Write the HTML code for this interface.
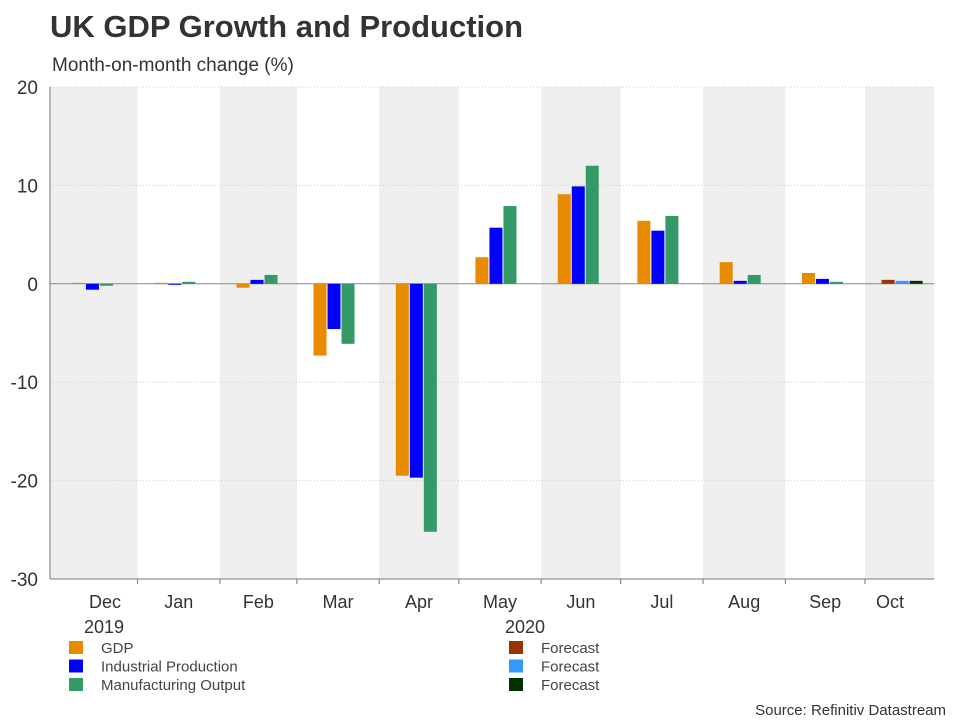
<!DOCTYPE html>
<html><head><meta charset="utf-8"><style>
body{margin:0;background:#fff;font-family:"Liberation Sans",Arial,sans-serif;}
svg text{font-family:"Liberation Sans",Arial,sans-serif;}
</style></head><body>
<svg id="chart" width="960" height="720" xmlns="http://www.w3.org/2000/svg">
<text x="50" y="37" font-size="31" font-weight="bold" fill="#333">UK GDP Growth and Production</text>
<text x="52" y="71" font-size="19" fill="#333">Month-on-month change (%)</text>
<g id="plot"></g>
<text x="946" y="715" font-size="15" fill="#333" text-anchor="end">Source: Refinitiv Datastream</text>
</svg>
<script>
const months=['Dec','Jan','Feb','Mar','Apr','May','Jun','Jul','Aug','Sep','Oct'];
const monthStarts=['2019-12-01','2020-01-01','2020-02-01','2020-03-01','2020-04-01','2020-05-01','2020-06-01','2020-07-01','2020-08-01','2020-09-01','2020-10-01'];
const gdp=[0.1,0.1,-0.4,-7.3,-19.5,2.7,9.1,6.4,2.2,1.1,null];
const indProd=[-0.6,-0.1,0.4,-4.6,-19.7,5.7,9.9,5.4,0.3,0.5,null];
const mfgOut=[-0.2,0.2,0.9,-6.1,-25.2,7.9,12.0,6.9,0.9,0.2,null];
const gdpFc=[null,null,null,null,null,null,null,null,null,null,0.4];
const indFc=[null,null,null,null,null,null,null,null,null,null,0.3];
const mfgFc=[null,null,null,null,null,null,null,null,null,null,0.3];
const yTicks=[20,10,0,-10,-20,-30];

const NS='http://www.w3.org/2000/svg';
const g=document.getElementById('plot');
const L=50,R=934,T=87,B=579;
const d0=Date.parse('2019-11-29'),d1=Date.parse('2020-10-27');
function x(ds){return L+(Date.parse(ds)-d0)/(d1-d0)*(R-L);}
function y(v){return T+(20-v)/50*(B-T);}
function mk(t,a){const e=document.createElementNS(NS,t);for(const k in a)e.setAttribute(k,a[k]);g.appendChild(e);return e;}
// bands
for(let i=0;i<months.length;i++){
  const s=i===0?L:x(monthStarts[i]);const e=i<months.length-1?x(monthStarts[i+1]):R;
  if(i%2===0){const r=mk('rect',{x:s,y:T,width:e-s,height:B-T,fill:'#efefef'});
  
  }
}
// grid
yTicks.forEach(v=>{
  if(v!==-30&&v!==0){const l=mk('line',{x1:L,x2:R,y1:y(v),y2:y(v),stroke:'#ccc','stroke-dasharray':'1,2','stroke-width':1});
  
  }
  const t=mk('text',{x:38,y:y(v)+7,'font-size':19,fill:'#333','text-anchor':'end'});t.textContent=v;
  
  
});
const zl=mk('line',{x1:L,x2:R,y1:y(0),y2:y(0),stroke:'#888','stroke-width':1});


// bars
const series=[[gdp,'#e88b00',-14,'gdp'],[indProd,'#0000ff',0,'ind-prod'],[mfgOut,'#339966',14,'mfg-output'],[gdpFc,'#993300',-14,'gdp-forecast'],[indFc,'#3399ff',0,'ind-prod-forecast'],[mfgFc,'#003300',14,'mfg-forecast']];
series.forEach(([arr,c,off,nm])=>{
  arr.forEach((v,i)=>{ if(v===null)return;
    const cx=x(monthStarts[i])+14*2.653+off;
    const y0=y(0),yv=y(v);
    const r=mk('rect',{x:cx-6.5,y:Math.min(y0,yv),width:13,height:Math.max(1,Math.abs(yv-y0)),fill:c});
    
    
  });
});
// axes
const ax=mk('line',{x1:L,x2:R,y1:B,y2:B,stroke:'#777','stroke-width':1});


const ay=mk('line',{x1:L,x2:L,y1:T,y2:B,stroke:'#777','stroke-width':1});


for(let i=0;i<months.length;i++){
  const s=i===0?L:x(monthStarts[i]);const e=i<months.length-1?x(monthStarts[i+1]):R;
  if(i>0){const tk=mk('line',{x1:s,x2:s,y1:B,y2:B+5,stroke:'#777'});
  
  }
  const t=mk('text',{x:i===0?105:(i===10?890:(s+e)/2),y:608,'font-size':18,fill:'#333','text-anchor':'middle'});t.textContent=months[i];
  
  
}
const yr1=mk('text',{x:104,y:633,'font-size':18,fill:'#333','text-anchor':'middle'});yr1.textContent='2019';


const yr2=mk('text',{x:525,y:633,'font-size':18,fill:'#333','text-anchor':'middle'});yr2.textContent='2020';


// legend
const leg=[[69,'#e88b00','GDP'],[69,'#0000ff','Industrial Production'],[69,'#339966','Manufacturing Output'],[509,'#993300','Forecast'],[509,'#3399ff','Forecast'],[509,'#003300','Forecast']];
leg.forEach(([lx,c,txt],i)=>{
  const ly=641+(i%3)*18.5;
  const r=mk('rect',{x:lx,y:ly,width:14,height:13,fill:c});
  
  
  const t=mk('text',{x:lx+32,y:ly+12,'font-size':15,fill:'#444'});t.textContent=txt;
  
  
});
</script>
</body></html>
